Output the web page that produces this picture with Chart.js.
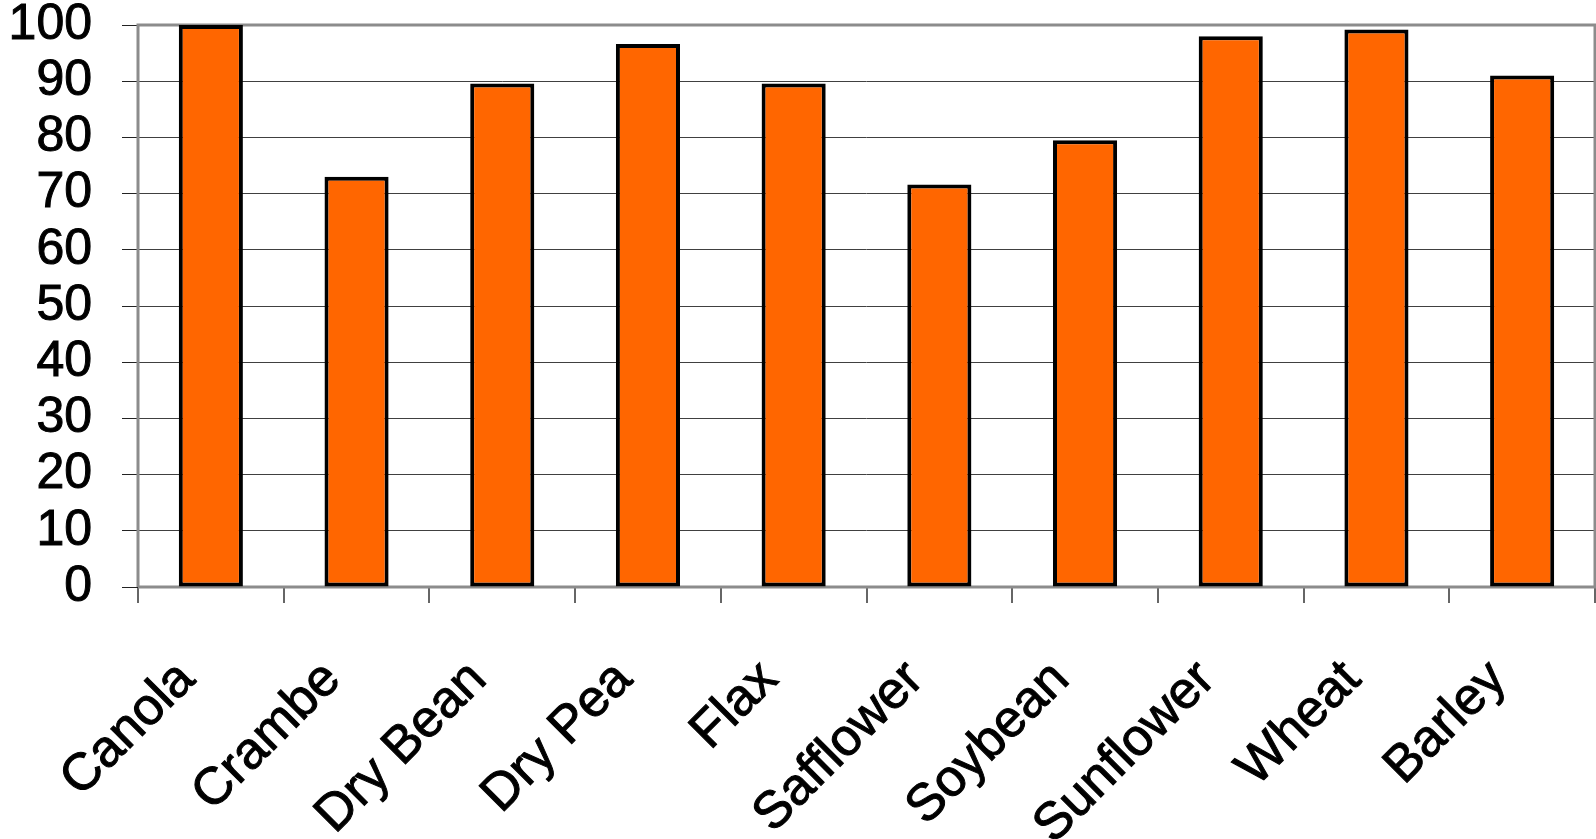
<!DOCTYPE html>
<html>
<head>
<meta charset="utf-8">
<script src="https://cdn.jsdelivr.net/npm/chart.js@4"></script>
<style>
  html, body { margin: 0; padding: 0; background: #fff; }
  #wrap { width: 1596px; height: 839px; }
</style>
</head>
<body>
<div id="wrap"><canvas id="chart"></canvas></div>
<script>
// data
const crops = ['Canola', 'Crambe', 'Dry Bean', 'Dry Pea', 'Flax', 'Safflower', 'Soybean', 'Sunflower', 'Wheat', 'Barley'];
const values = [100, 73, 89.6, 96.6, 89.6, 71.6, 79.5, 98, 99.2, 91];
const yTicks = [0, 10, 20, 30, 40, 50, 60, 70, 80, 90, 100];

// gray frame round the plot area, under the bars
const framePlugin = {
  id: 'frame',
  beforeDatasetsDraw(chart) {
    const a = chart.chartArea;
    const ctx = chart.ctx;
    ctx.save();
    ctx.strokeStyle = '#8c8c8c';
    ctx.lineWidth = 3;
    ctx.beginPath();
    ctx.moveTo(a.left, a.bottom);
    ctx.lineTo(a.left, a.top);
    ctx.lineTo(a.right, a.top);
    ctx.lineTo(a.right, a.bottom);
    ctx.lineTo(a.left, a.bottom);
    ctx.stroke();
    ctx.restore();
  }
};

const yFont = { family: 'Liberation Sans, Arial, sans-serif', size: 50 };
const xFont = { family: 'Liberation Sans, Arial, sans-serif', size: 52 };

const chart = new Chart('chart', {
  type: 'bar',
  data: {
    labels: crops,
    datasets: [{
      data: values,
      backgroundColor: '#ff6600',
      borderColor: '#000',
      borderWidth: 4,
      borderSkipped: false,
      barPercentage: 0.44,
      categoryPercentage: 1
    }]
  },
  options: {
    responsive: true,
    maintainAspectRatio: false,
    animation: false,
    layout: { padding: { left: 0, right: 1, top: 25, bottom: 0 } },
    plugins: {
      legend: { display: false },
      tooltip: { enabled: false }
    },
    scales: {
      x: {
        afterFit(scale) {
          scale.paddingLeft = 0;
          scale.paddingRight = 0;
          scale.height = 252;
        },
        grid: {
          offset: true,
          drawOnChartArea: false,
          drawTicks: true,
          tickLength: 16,
          color: '#666',
          lineWidth: 2
        },
        border: { display: false },
        ticks: {
          minRotation: 45,
          maxRotation: 45,
          autoSkip: false,
          padding: 46,
          labelOffset: -24,
          color: '#000',
          textStrokeColor: '#000',
          textStrokeWidth: 1,
          font: xFont
        }
      },
      y: {
        min: 0,
        max: 100,
        afterBuildTicks(axis) {
          axis.ticks = yTicks.map(v => ({ value: v }));
        },
        afterFit(scale) {
          scale.paddingTop = 0;
          scale.paddingBottom = 0;
          scale.width = 138;
        },
        grid: {
          color: '#404040',
          lineWidth: 1,
          tickLength: 16,
          tickColor: '#222'
        },
        border: { display: false },
        ticks: {
          autoSkip: false,
          padding: 30,
          color: '#000',
          textStrokeColor: '#000',
          textStrokeWidth: 1,
          font: yFont
        }
      }
    }
  },
  plugins: [framePlugin]
});
</script>
</body>
</html>
